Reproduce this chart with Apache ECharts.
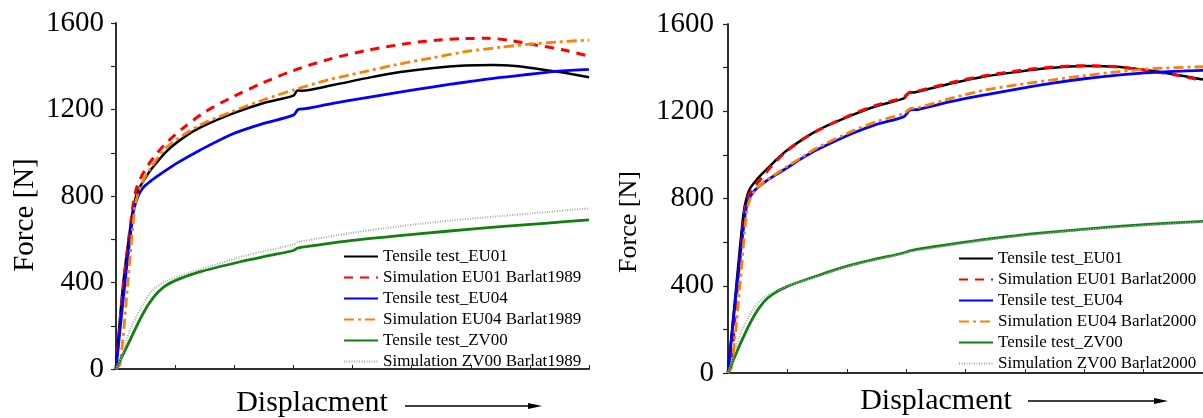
<!DOCTYPE html>
<html>
<head>
<meta charset="utf-8">
<script src="https://cdn.jsdelivr.net/npm/echarts@6.0.0/dist/echarts.min.js"></script>
<style>
  html, body { margin: 0; padding: 0; background: #fff; overflow: hidden; }
  #chart { width: 1203px; height: 418px; }
</style>
</head>
<body>
<div id="chart"></div>
<script>
// Force–displacement curves (displacement in arbitrary units 0..8, force in N)
const forceTicks = [0, 400, 800, 1200, 1600];

// Panel A: Barlat1989 yield criterion
const testEU01_A = [[0,0],[0.12,390],[0.27,710],[0.32,780],[0.37,825],[0.46,868],[0.6,925],[0.86,1008],[1.14,1070],[1.42,1116],[1.98,1182],[2.5,1230],[3.0,1264],[3.07,1288],[3.14,1287],[3.67,1313],[4.24,1345],[4.81,1373],[5.37,1392],[5.9,1403],[6.38,1406],[6.75,1401],[7.06,1391],[7.5,1373],[8,1349]];
const simEU01_A = [[0,0],[0.13,400],[0.28,740],[0.34,830],[0.42,885],[0.55,945],[0.7,1000],[0.86,1048],[1.14,1115],[1.5,1188],[1.98,1259],[2.5,1325],[3.0,1380],[3.6,1432],[4.24,1473],[4.97,1507],[5.5,1522],[5.88,1528],[6.3,1529],[6.7,1518],[7.1,1498],[7.56,1476],[8,1446]];
const testEU04_A = [[0,0],[0.15,396],[0.29,720],[0.34,775],[0.4,815],[0.48,845],[0.6,872],[0.745,900],[1.03,952],[1.42,1012],[1.98,1088],[2.5,1136],[3.0,1174],[3.08,1200],[3.2,1204],[3.67,1228],[4.24,1255],[4.75,1278],[5.37,1305],[5.9,1326],[6.44,1346],[7.0,1363],[7.48,1377],[8,1386]];
const simEU04_A = [[0,0],[0.07,25],[0.2,400],[0.31,730],[0.36,800],[0.44,860],[0.55,915],[0.86,1025],[1.4,1125],[1.98,1192],[2.5,1245],[3.0,1290],[3.6,1338],[4.24,1377],[4.75,1408],[5.37,1440],[5.88,1466],[6.5,1488],[7.0,1502],[7.5,1513],[8,1521]];
const testZV00_A = [[0,0],[0.237,134],[0.46,258],[0.63,330],[0.8,378],[1.03,412],[1.4,448],[2.1,496],[2.6,525],[3.0,548],[3.08,560],[3.3,569],[4.0,595],[4.8,617],[5.6,637],[6.5,658],[7.3,675],[8,690]];
const simZV00_A = [[0,0],[0.1,60],[0.237,180],[0.46,300],[0.63,368],[0.84,404],[1.2,442],[1.6,475],[2.2,525],[3.0,575],[3.07,586],[4.0,630],[4.8,660],[5.6,685],[6.5,707],[7.3,726],[8,743]];

// Panel B: Barlat2000 yield criterion
const testEU01_B = [[0,0],[0.14,400],[0.26,730],[0.31,800],[0.37,845],[0.48,885],[0.6,920],[0.71,950],[0.85,987],[0.99,1020],[1.25,1070],[1.54,1117],[2.1,1183],[2.5,1224],[2.96,1259],[3.05,1285],[3.15,1287],[3.77,1328],[4.3,1358],[4.89,1381],[5.4,1398],[6.0,1408],[6.56,1404],[7.12,1386],[7.5,1370],[8,1345]];
const simEU01_B = [[0,0],[0.05,40],[0.16,400],[0.28,740],[0.33,800],[0.4,838],[0.5,872],[0.6,905],[0.71,942],[0.85,982],[0.99,1018],[1.25,1070],[1.54,1116],[2.1,1187],[2.5,1228],[2.96,1264],[3.05,1285],[3.15,1290],[3.77,1332],[4.3,1362],[4.89,1386],[5.4,1401],[6.0,1409],[6.56,1403],[7.12,1384],[7.5,1368],[8,1342]];
const testEU04_B = [[0,0],[0.15,400],[0.29,730],[0.34,790],[0.42,828],[0.5,850],[0.6,872],[0.8,908],[0.99,940],[1.25,985],[1.49,1022],[2.1,1099],[2.5,1140],[2.96,1175],[3.07,1206],[3.2,1208],[3.77,1245],[4.33,1275],[4.89,1303],[5.44,1328],[6.0,1349],[6.56,1366],[7.2,1378],[8,1387]];
const simEU04_B = [[0,0],[0.06,30],[0.2,400],[0.31,730],[0.36,790],[0.45,835],[0.6,875],[0.8,912],[0.99,946],[1.25,990],[1.49,1030],[2.1,1110],[2.5,1152],[2.96,1190],[3.07,1212],[3.2,1216],[3.77,1260],[4.33,1297],[4.89,1322],[5.44,1343],[6.0,1363],[6.56,1381],[7.2,1396],[8,1404]];
const testZV00_B = [[0,0],[0.21,136],[0.43,258],[0.6,325],[0.76,363],[0.99,396],[1.54,449],[2.05,493],[2.5,523],[2.94,549],[3.08,561],[3.5,580],[4.5,618],[5.3,642],[6.17,663],[7.0,680],[8,695]];
const simZV00_B = [[0,0],[0.1,80],[0.21,180],[0.43,295],[0.6,345],[0.8,375],[0.99,398],[1.54,445],[2.05,490],[2.94,545],[3.08,556],[4.5,614],[6.17,660],[8,692]];

const namesA = ['Tensile test_EU01', 'Simulation EU01 Barlat1989', 'Tensile test_EU04', 'Simulation EU04 Barlat1989', 'Tensile test_ZV00', 'Simulation ZV00 Barlat1989'];
const namesB = ['Tensile test_EU01', 'Simulation EU01 Barlat2000', 'Tensile test_EU04', 'Simulation EU04 Barlat2000', 'Tensile test_ZV00', 'Simulation ZV00 Barlat2000'];
const xTitle = 'Displacment';
const yTitle = 'Force [N]';

const FONT = '"Liberation Serif", "Times New Roman", serif';
const styles = [
  { color: '#000000', width: 2.5, type: 'solid' },
  { color: '#ff0000', width: 3, type: [9, 7] },
  { color: '#0000ff', width: 2.8, type: 'solid' },
  { color: '#ff8000', width: 2.8, type: [10, 4, 3, 4] },
  { color: '#118011', width: 2.8, type: 'solid' },
  { color: '#a8a8a8', width: 2, type: [1, 1.5] }
];

function lineSeries(name, data, idx, st) {
  return {
    type: 'line', name: name, data: data,
    xAxisIndex: idx, yAxisIndex: idx,
    showSymbol: false, symbol: 'none',
    smooth: 0.3,
    lineStyle: { color: st.color, width: st.width, type: st.type },
    itemStyle: { color: st.color },
    emphasis: { disabled: true }
  };
}

const dataA = [testEU01_A, simEU01_A, testEU04_A, simEU04_A, testZV00_A, simZV00_A];
const dataB = [testEU01_B, simEU01_B, testEU04_B, simEU04_B, testZV00_B, simZV00_B];
const series = [];
dataA.forEach((d, i) => series.push(lineSeries(namesA[i], d, 0, styles[i])));
dataB.forEach((d, i) => series.push(lineSeries(namesB[i], d, 2, styles[i])));

const axisLineStyle = { color: '#222', width: 1.5 };

function xAxes(gridIndex) {
  return [
    { type: 'value', gridIndex, min: 0, max: 8, interval: 1, position: 'bottom',
      axisLine: { show: true, lineStyle: axisLineStyle },
      axisTick: { show: true, inside: true, length: 4, lineStyle: { color: '#222', width: 1 } },
      axisLabel: { show: false }, splitLine: { show: false } },
    { type: 'value', gridIndex, min: 0, max: 8, interval: 1, position: 'top',
      axisLine: { show: true, lineStyle: axisLineStyle },
      axisTick: { show: true, inside: false, length: 3, lineStyle: { color: '#222', width: 1 } },
      axisLabel: { show: false }, splitLine: { show: false } }
  ];
}
function yAxes(gridIndex, margin) {
  return [
    { type: 'value', gridIndex, min: 0, max: 1600, interval: 200, position: 'left',
      axisLine: { show: true, lineStyle: axisLineStyle },
      axisTick: { show: true, inside: false, length: 5, lineStyle: { color: '#222', width: 1.2 } },
      axisLabel: { show: true, margin: margin, color: '#000', fontFamily: FONT, fontSize: 29,
        formatter: v => (forceTicks.indexOf(v) >= 0 ? String(v) : '') },
      splitLine: { show: false } },
    { type: 'value', gridIndex, min: 0, max: 1600, interval: 200, position: 'right',
      axisLine: { show: true, lineStyle: axisLineStyle },
      axisTick: { show: true, inside: true, length: 4, lineStyle: { color: '#222', width: 1 } },
      axisLabel: { show: false }, splitLine: { show: false } }
  ];
}

function legend(names, left, top) {
  return {
    orient: 'vertical', left: left, top: top, padding: 0,
    data: names, itemWidth: 34, itemHeight: 14, itemGap: 4,
    selectedMode: false,
    itemStyle: { opacity: 0 },
    textStyle: { fontFamily: FONT, fontSize: 17, color: '#000', lineHeight: 17 }
  };
}

function arrow(x1, x2, y) {
  return [
    { type: 'line', shape: { x1: x1, y1: y, x2: x2 - 10, y2: y }, style: { stroke: '#000', lineWidth: 1.5 } },
    { type: 'polygon', shape: { points: [[x2 - 14, y - 3], [x2, y], [x2 - 14, y + 3]] }, style: { fill: '#000' } }
  ];
}

const graphic = [
  { type: 'text', x: 312, y: 403, style: { text: xTitle, font: '30px ' + FONT, fill: '#000', textAlign: 'center', textVerticalAlign: 'middle' } },
  { type: 'text', x: 936, y: 401, style: { text: xTitle, font: '30px ' + FONT, fill: '#000', textAlign: 'center', textVerticalAlign: 'middle' } },
  { type: 'text', x: 25, y: 215, rotation: Math.PI / 2, style: { text: yTitle, font: '29px ' + FONT, fill: '#000', textAlign: 'center', textVerticalAlign: 'middle' } },
  { type: 'text', x: 629, y: 222, rotation: Math.PI / 2, style: { text: yTitle, font: '26px ' + FONT, fill: '#000', textAlign: 'center', textVerticalAlign: 'middle' } }
].concat(arrow(405, 542, 406), arrow(1028, 1168, 401));

const chart = echarts.init(document.getElementById('chart'), null, { renderer: 'canvas' });
chart.setOption({
  animation: false,
  backgroundColor: '#fff',
  grid: [
    { left: 116, top: 23, width: 473, height: 346, containLabel: false },
    { left: 728, top: 24, width: 478, height: 349, containLabel: false }
  ],
  xAxis: xAxes(0).concat(xAxes(1)),
  yAxis: yAxes(0, 12).concat(yAxes(1, 14)),
  legend: [legend(namesA, 343, 248), legend(namesB, 958, 250)],
  graphic: graphic,
  series: series
});
</script>
</body>
</html>
